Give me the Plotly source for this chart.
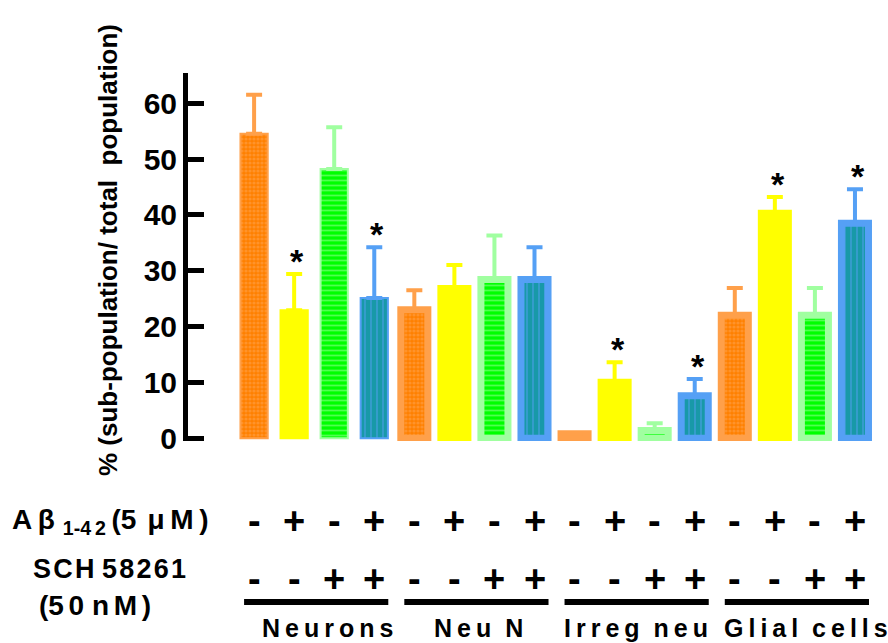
import plotly.graph_objects as go

groups = ["Neurons", "Neu N", "Irreg neu", "Glial cells"]
treat_names = ["Control", "Aβ1-42", "SCH 58261", "Aβ1-42 + SCH 58261"]
means = {
    "Control": [54.5, 23.0, 0.8, 22.0],
    "Aβ1-42": [22.9, 26.8, 10.0, 40.3],
    "SCH 58261": [48.2, 28.4, 1.4, 22.0],
    "Aβ1-42 + SCH 58261": [25.1, 28.4, 7.6, 38.5],
}
errors = {
    "Control": [7.0, 3.5, 0.0, 4.9],
    "Aβ1-42": [6.5, 4.2, 3.6, 2.9],
    "SCH 58261": [7.5, 7.9, 1.3, 4.9],
    "Aβ1-42 + SCH 58261": [9.1, 5.8, 3.0, 6.1],
}
signif = {
    "Control": [False, False, False, False],
    "Aβ1-42": [True, False, True, True],
    "SCH 58261": [False, False, False, False],
    "Aβ1-42 + SCH 58261": [True, False, True, True],
}
abeta_row = ["-", "+", "-", "+"]
sch_row = ["-", "-", "+", "+"]
y_ticks = [0, 10, 20, 30, 40, 50, 60]

FONT = "Liberation Sans, Arial, sans-serif"

# plot area in pixels: x 188..879, y 73..441
def px_x(p):
    return (p - 188) / 691

def px_y(p):
    return (441 - p) / 368

styles = {
    "Control": dict(color="#ff8000", line="#ffa04a",
                    pattern=dict(shape=".", fgcolor="#ffa555", bgcolor="#ff8000", size=4, solidity=0.5)),
    "Aβ1-42": dict(color="#ffff00", line="#ffff00", pattern=None),
    "SCH 58261": dict(color="#00ff00", line="#a0ffa0",
                      pattern=dict(shape="-", fgcolor="#a0ffa0", bgcolor="#00ff00", size=5, solidity=0.35)),
    "Aβ1-42 + SCH 58261": dict(color="#1899a8", line="#55a0f5",
                               pattern=dict(shape="|", fgcolor="#55a0f5", bgcolor="#1899a8", size=6, solidity=0.3)),
}

fig = go.Figure()
for k, name in enumerate(treat_names):
    st = styles[name]
    xs = [4 * g + k for g in range(len(groups))]
    marker = dict(color=st["color"],
                  line=dict(color=st["line"], width=[2, 7, 7, 7]))
    if st["pattern"]:
        marker["pattern"] = st["pattern"]
    fig.add_trace(go.Bar(
        x=xs, y=means[name], name=name,
        width=[0.68, 0.675, 0.675, 0.675],
        marker=marker,
        error_y=dict(type="data", symmetric=False, array=errors[name],
                     arrayminus=[0] * 4, color=st["line"], thickness=4, width=8),
        cliponaxis=False, showlegend=False,
    ))
    for g in range(len(groups)):
        if signif[name][g]:
            fig.add_annotation(x=xs[g], y=means[name][g] + errors[name][g],
                               text="<b>*</b>", showarrow=False, xshift=3, yshift=13,
                               xanchor="center", yanchor="middle",
                               font=dict(size=34, color="black", family=FONT))

# treatment rows, group bars and labels
label_offsets = [0.32, 0.09, 0.03, 0.28]
for g in range(len(groups)):
    for k in range(4):
        x = 4 * g + k
        fig.add_annotation(x=x, y=px_y(521), yref="paper", text="<b>%s</b>" % abeta_row[k],
                           showarrow=False, xanchor="center", yanchor="middle",
                           font=dict(size=38, color="black", family=FONT))
        fig.add_annotation(x=x, y=px_y(579), yref="paper", text="<b>%s</b>" % sch_row[k],
                           showarrow=False, xanchor="center", yanchor="middle",
                           font=dict(size=38, color="black", family=FONT))
    fig.add_shape(type="line", x0=4 * g - 0.25, x1=4 * g + 3.35, xref="x",
                  y0=px_y(602), y1=px_y(602), yref="paper",
                  line=dict(color="black", width=6))
    label = "\u2009".join(list(groups[g])).replace("\u2009 \u2009", "  ")
    fig.add_annotation(x=4 * g + 1.5 + label_offsets[g], y=px_y(628), yref="paper",
                       text="<b>%s</b>" % label, showarrow=False,
                       xanchor="center", yanchor="middle",
                       font=dict(size=25, color="black", family=FONT))

# row labels
fig.add_annotation(x=px_x(10), xref="paper", xanchor="left",
                   y=px_y(521), yref="paper", yanchor="middle",
                   text="<b>A\u2009β<sub>\u2009\u20091-4\u20092</sub>\u2009(5\u2009\u2009μ\u2009M\u2009)</b>",
                   showarrow=False, font=dict(size=28, color="black", family=FONT))
fig.add_annotation(x=px_x(109), xref="paper", xanchor="center",
                   y=px_y(569), yref="paper", yanchor="middle",
                   text="<b>S\u200aC\u200aH 5\u200a8\u200a2\u200a6\u200a1</b>", showarrow=False,
                   font=dict(size=27, color="black", family=FONT))
fig.add_annotation(x=px_x(95), xref="paper", xanchor="center",
                   y=px_y(605), yref="paper", yanchor="middle",
                   text="<b>(5\u200a\u200a0 n\u200a\u200aM\u200a\u200a)</b>", showarrow=False,
                   font=dict(size=28, color="black", family=FONT))

# y title
fig.add_annotation(x=px_x(108), xref="paper", xanchor="center",
                   y=px_y(250), yref="paper", yanchor="middle",
                   text="<b>% (sub-population/ total\u00a0 population)</b>", textangle=-90,
                   showarrow=False, font=dict(size=26, color="black", family=FONT))

fig.update_layout(
    width=888, height=643,
    margin=dict(l=188, r=9, t=73, b=202),
    paper_bgcolor="white", plot_bgcolor="white",
    barmode="overlay",
    font=dict(family=FONT, color="black"),
    xaxis=dict(range=[-1.65, 15.6], showgrid=False, zeroline=False, showline=False,
               showticklabels=False, ticks=""),
    yaxis=dict(range=[-0.5, 65.4], tickvals=y_ticks, showgrid=False, zeroline=False,
               showline=True, linewidth=5, linecolor="black",
               ticks="inside", ticklen=16, tickwidth=5, tickcolor="black",
               tickfont=dict(size=30, family=FONT, color="black", weight="bold")),
)

fig.write_html("out.html", config={"displayModeBar": False},
               post_script="document.body.style.margin='0';document.body.style.padding='0';")
